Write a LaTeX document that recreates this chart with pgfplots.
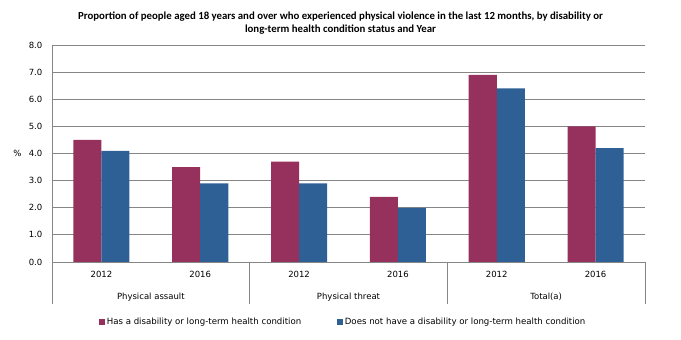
\documentclass[border=0pt]{standalone}
\usepackage{pgfplots}
\usepackage{pgfplotstable}
\pgfplotsset{compat=1.18}
\usepackage{fontspec}
\setmainfont{DejaVu Sans}
\newfontfamily\titlefont{Carlito}
\definecolor{dis}{RGB}{150,49,94}
\definecolor{nodis}{RGB}{46,96,150}
\definecolor{gridc}{RGB}{134,134,134}

% values in %, slots: PA 2012, PA 2016, PT 2012, PT 2016, Total 2012, Total 2016
\pgfplotstableread{
x  has   hasnot
0  4.5   4.1
1  3.5   2.9
2  3.7   2.9
3  2.4   2.0
4  6.9   6.4
5  5.0   4.2
}\violence

\begin{document}
\begin{tikzpicture}
  \begin{axis}[
      width=593pt, height=217pt, scale only axis,
      ymin=0, ymax=8, ytick={0,1,...,8},
      xmin=-0.5, xmax=5.5, xtick={0,...,5},
      xticklabels={2012,2016,2012,2016,2012,2016},
      ybar=0pt, bar width=28pt,
      axis x line=bottom, axis y line=left,
      axis line style={-, gridc},
      ymajorgrids, grid style={gridc, line width=0.8pt},
      xtick style={draw=none}, ytick style={draw=none},
      tick label style={font=\fontsize{8.5}{10}\selectfont},
      /pgf/number format/.cd, fixed, fixed zerofill, precision=1, assume math mode=true,
      /pgfplots/.cd,
      yticklabel style={xshift=-4pt},
      xticklabel style={yshift=-4pt},
      ylabel={\%},
      ylabel style={rotate=-90, at={(axis description cs:0,0.5)}, anchor=center, xshift=-34.5pt, font=\fontsize{8.5}{10}\selectfont},
      clip=false,
      legend style={at={(0.0793,-0.2765)}, anchor=west, draw=none, fill=none,
        inner xsep=0pt, font=\fontsize{8.6}{10}\selectfont, legend columns=2,
        /tikz/every even column/.append style={column sep=34pt}},
      legend image code/.code={\fill[#1] (0pt,-2.8pt) rectangle (5.6pt,2.8pt);},
    ]
    \addplot[fill=dis, draw=none] table[x=x, y=has] {\violence};
    \addlegendentry{Has a disability or long-term health condition}
    \addplot[fill=nodis, draw=none] table[x=x, y=hasnot] {\violence};
    \addlegendentry{Does not have a disability or long-term health condition}
    \pgfplotsinvokeforeach{-0.5,1.5,3.5,5.5}{
      \draw[gridc, line width=0.8pt] (axis cs:#1,0) -- ++(0pt,-42pt);
    }
    \node[font=\fontsize{8.5}{10}\selectfont] at (axis cs:0.5,0) [yshift=-35pt] {Physical assault};
    \node[font=\fontsize{8.5}{10}\selectfont] at (axis cs:2.5,0) [yshift=-35pt] {Physical threat};
    \node[font=\fontsize{8.5}{10}\selectfont] at (axis cs:4.5,0) [yshift=-35pt] {Total(a)};
    \coordinate (O) at (rel axis cs:0,0);
  \end{axis}
  \node[font=\titlefont\bfseries\fontsize{10.8}{13.3}\selectfont, align=center]
    at ([shift={(288.5pt,238.7pt)}]O) {Proportion of people aged 18 years and over who experienced physical violence in the last 12 months, by disability or\\long-term health condition status and Year};
  \pgfresetboundingbox
  \path ([shift={(-52pt,-78pt)}]O) rectangle ++(681pt,340pt);
\end{tikzpicture}
\end{document}
